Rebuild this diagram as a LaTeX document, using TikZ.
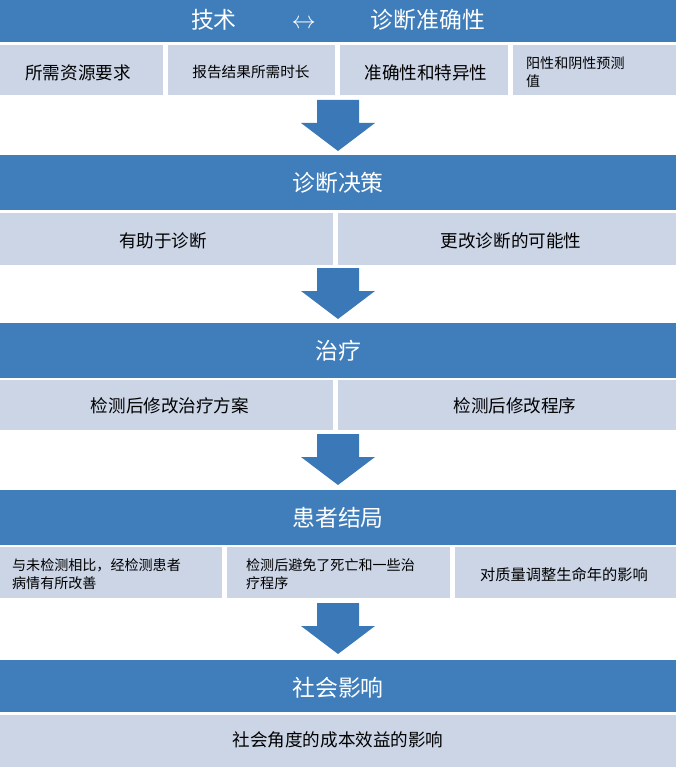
\documentclass[tikz,border=0pt]{standalone}
\usepackage{fontspec}
\setmainfont{Noto Sans CJK SC}
\definecolor{hdblue}{HTML}{3F7DBB}
\definecolor{subgray}{HTML}{CBD5E6}
\definecolor{arrblue}{HTML}{3A78B8}
\tikzset{
  header/.style={fill=hdblue,text=white,font=\fontsize{19.5}{22}\selectfont},
  subbox/.style={fill=subgray,text=black,font=\fontsize{15}{17}\selectfont},
  smallbox/.style={subbox,font=\fontsize{12}{15}\selectfont,align=left},
  downarrow/.style={fill=arrblue}
}
\newcommand\downarr[1]{%
  \fill[downarrow] ($(#1)+(-21,-25)$) -- ($(#1)+(21,-25)$) -- ($(#1)+(21,-2)$) -- ($(#1)+(37,-2)$)
    -- ($(#1)+(0,26)$) -- ($(#1)+(-37,-2)$) -- ($(#1)+(-21,-2)$) -- cycle;}
\usetikzlibrary{calc}
\begin{document}
\begin{tikzpicture}[x=0.03cm,y=-0.03cm]
\useasboundingbox (0,0) rectangle (676,767);
% header bars
\fill[hdblue] (0,0) rectangle (676,42);
\node[text=white,font=\fontsize{19.5}{22}\selectfont] (h1) at (338,20) {技术\hspace{2.4em}$\leftrightarrow$\hspace{2.4em}诊断准确性};
\fill[hdblue] (0,155) rectangle (676,210);
\node[header] (h2) at (338,183) {诊断决策};
\fill[hdblue] (0,323) rectangle (676,378);
\node[header] (h3) at (338,351) {治疗};
\fill[hdblue] (0,490) rectangle (676,545);
\node[header] (h4) at (338,518) {患者结局};
\fill[hdblue] (0,660) rectangle (676,712);
\node[header] (h5) at (338,688) {社会影响};
% sub boxes, row 1
\fill[subgray] (0,45) rectangle (163,95);
\node[subbox] (s11) at (78,73) {所需资源要求};
\fill[subgray] (168,45) rectangle (335,95);
\node[subbox,font=\fontsize{12.5}{14}\selectfont] (s12) at (251,72) {报告结果所需时长};
\fill[subgray] (340,45) rectangle (508,95);
\node[subbox] (s13) at (426,73) {准确性和特异性};
\fill[subgray] (513,45) rectangle (676,95);
\node[smallbox,anchor=west] (s14) at (522,72) {阳性和阴性预测\\值};
% row 2
\fill[subgray] (0,213) rectangle (333,265);
\node[subbox] (s21) at (163,241) {有助于诊断};
\fill[subgray] (338,213) rectangle (676,265);
\node[subbox] (s22) at (511,241) {更改诊断的可能性};
% row 3
\fill[subgray] (0,380) rectangle (333,430);
\node[subbox] (s31) at (170,406) {检测后修改治疗方案};
\fill[subgray] (338,380) rectangle (676,430);
\node[subbox] (s32) at (515,406) {检测后修改程序};
% row 4
\fill[subgray] (0,547) rectangle (222,598);
\node[smallbox,anchor=west] (s41) at (8,574) {与未检测相比，经检测患者\\病情有所改善};
\fill[subgray] (227,547) rectangle (450,598);
\node[smallbox,anchor=west] (s42) at (242,574) {检测后避免了死亡和一些治\\疗程序};
\fill[subgray] (455,547) rectangle (676,598);
\node[subbox,font=\fontsize{13}{15}\selectfont] (s43) at (564,575) {对质量调整生命年的影响};
% row 5
\fill[subgray] (0,715) rectangle (676,767);
\node[subbox] (s51) at (338,740) {社会角度的成本效益的影响};
% arrows
\coordinate (a1) at (338,125);
\coordinate (a2) at (338,293);
\coordinate (a3) at (338,459);
\coordinate (a4) at (338,628);
\downarr{a1}
\downarr{a2}
\downarr{a3}
\downarr{a4}
\end{tikzpicture}
\end{document}
